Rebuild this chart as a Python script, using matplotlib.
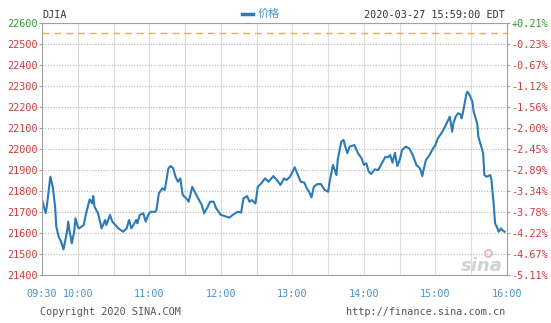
import matplotlib
matplotlib.use("Agg")
import matplotlib.pyplot as plt
from matplotlib.lines import Line2D

# DJIA intraday, minutes after 09:30 open
minutes = [0, 3, 4, 7, 9, 11, 12, 14, 16, 18, 21, 22, 23, 25, 27, 28, 30, 31, 35, 37,
           40, 42, 43, 44, 47, 50, 53, 54, 57, 59, 64, 68, 71, 73, 75, 79, 80, 82, 85, 87,
           89, 91, 95, 96, 98, 101, 103, 106, 108, 110, 112, 114, 116, 118, 121, 123, 126, 128, 131, 134,
           136, 139, 141, 144, 146, 150, 153, 157, 160, 164, 167, 169, 172, 174, 176, 179, 181, 184, 187, 190,
           194, 197, 200, 203, 205, 208, 212, 214, 217, 220, 222, 224, 226, 228, 231, 234, 237, 240, 241, 244,
           245, 247, 248, 251, 253, 254, 256, 258, 262, 265, 268, 270, 272, 274, 276, 279, 282, 285, 288, 290,
           292, 294, 296, 298, 300, 302, 305, 308, 311, 314, 317, 319, 320, 322, 325, 328, 330, 332, 335, 338,
           340, 342, 344, 345, 347, 349, 351, 352, 354, 356, 357, 359, 361, 362, 365, 366, 368, 370, 371, 373,
           376, 377, 379, 380, 382, 383, 385, 386, 388]
prices = [21760, 21695, 21725, 21868, 21820, 21725, 21630, 21582, 21559, 21522, 21606, 21654, 21614, 21551, 21606, 21670, 21630, 21622, 21638, 21694,
          21760, 21741, 21776, 21725, 21694, 21622, 21662, 21638, 21686, 21654, 21622, 21606, 21622, 21662, 21622, 21662, 21646, 21686, 21694, 21654,
          21686, 21701, 21701, 21710, 21789, 21813, 21805, 21908, 21919, 21908, 21868, 21844, 21860, 21781, 21765, 21749, 21820, 21797, 21765, 21733,
          21694, 21725, 21749, 21749, 21718, 21686, 21681, 21673, 21686, 21701, 21697, 21765, 21776, 21749, 21757, 21741, 21820, 21837, 21860, 21844,
          21871, 21852, 21829, 21860, 21852, 21868, 21913, 21884, 21844, 21840, 21813, 21797, 21770, 21820, 21833, 21833, 21805, 21797, 21837, 21924,
          21908, 21876, 21948, 22035, 22043, 22019, 21980, 22011, 22019, 21980, 21956, 21924, 21932, 21892, 21881, 21903, 21900, 21932, 21963, 21960,
          21971, 21935, 21982, 21919, 21948, 21995, 22011, 22003, 21971, 21924, 21908, 21871, 21900, 21948, 21971, 22003, 22019, 22051, 22075, 22106,
          22130, 22154, 22082, 22122, 22154, 22170, 22165, 22146, 22201, 22265, 22273, 22252, 22225, 22178, 22122, 22059, 22019, 21980, 21876, 21868,
          21876, 21852, 21725, 21646, 21622, 21606, 21622, 21614, 21606]

prev_close = 22552.17
price_ticks = list(range(21400, 22700, 100))
pct_labels = ["-5.11%", "-4.67%", "-4.22%", "-3.78%", "-3.34%", "-2.89%", "-2.45%",
              "-2.00%", "-1.56%", "-1.12%", "-0.67%", "-0.23%", "+0.21%"]
time_ticks = [0, 30, 90, 150, 210, 270, 330, 390]
time_labels = ["09:30", "10:00", "11:00", "12:00", "13:00", "14:00", "15:00", "16:00"]

RED = "#cc3b3b"
GREEN = "#2f9a2f"
BLUE = "#2a7bb6"
TIME_BLUE = "#4a92c4"
MONO = "DejaVu Sans Mono"
FS = 7.3

fig = plt.figure(figsize=(5.51, 3.23), dpi=100)
W, H = 551, 323
ax = fig.add_axes([42 / W, 1 - 275 / H, 465 / W, 252 / H])

ax.plot(minutes, prices, color=BLUE, lw=1.5, label="价格", solid_joinstyle="round")
ax.axhline(prev_close, color="#f0b040", lw=1.0, ls=(0, (5, 3.5)))

ax.set_xlim(0, 390)
ax.set_ylim(21400, 22600)

# grid: solid verticals every 30 min, dotted horizontals every 100
for m in range(30, 390, 30):
    ax.axvline(m, color="#dcdcdc", lw=0.8, zorder=0)
for p in price_ticks[1:-1]:
    ax.axhline(p, color="#b8b8b8", lw=0.8, ls=(0, (1, 1.5)), zorder=0)

for s in ax.spines.values():
    s.set_color("#a0a0a0")
    s.set_linewidth(0.8)

ax.set_yticks(price_ticks)
ax.set_yticklabels([str(p) for p in price_ticks], fontfamily=MONO, fontsize=FS)
for lbl, p in zip(ax.get_yticklabels(), price_ticks):
    lbl.set_color(GREEN if p > prev_close else RED)
ax.tick_params(axis="y", length=2, pad=1, color="#a0a0a0")

ax.set_xticks(time_ticks)
ax.set_xticklabels(time_labels, fontfamily=MONO, fontsize=FS, color=TIME_BLUE)
ax.tick_params(axis="x", length=0, pad=10)

ax2 = ax.twinx()
ax2.set_ylim(ax.get_ylim())
ax2.set_yticks(price_ticks)
ax2.set_yticklabels(pct_labels, fontfamily=MONO, fontsize=FS)
for lbl, p in zip(ax2.get_yticklabels(), price_ticks):
    lbl.set_color(GREEN if p > prev_close else RED)
ax2.tick_params(axis="y", length=2, pad=1, color="#a0a0a0")
for s in ax2.spines.values():
    s.set_visible(False)

# header
fig.text(42 / W, 1 - 15 / H, "DJIA", fontfamily=MONO, fontsize=FS, color="#333333",
         va="center", ha="left")
fig.text(505 / W, 1 - 15 / H, "2020-03-27 15:59:00 EDT", fontfamily=MONO, fontsize=FS,
         color="#333333", va="center", ha="right")
fig.lines.append(Line2D([242 / W, 253 / W], [1 - 14 / H, 1 - 14 / H], color=BLUE, lw=2.5,
                        transform=fig.transFigure))
fig.text(258 / W, 1 - 14 / H, "价格", fontfamily=["Noto Sans CJK SC", "DejaVu Sans"],
         fontsize=8, color=TIME_BLUE, va="center", ha="left")

# footer
fig.text(40 / W, 1 - 312 / H, "Copyright 2020 SINA.COM", fontfamily=MONO, fontsize=FS,
         color="#555555", va="center", ha="left")
fig.text(505 / W, 1 - 312 / H, "http://finance.sina.com.cn", fontfamily=MONO, fontsize=FS,
         color="#555555", va="center", ha="right")

# watermark
fig.text(482 / W, 1 - 266 / H, "sina", fontsize=13, style="italic", fontweight="bold",
         color="#d2d2d2", va="center", ha="center")
fig.lines.append(Line2D([488 / W], [1 - 253 / H], marker="o", ms=5, mfc="none", mec="#f0b0b0",
                        mew=1.2, transform=fig.transFigure))

fig.savefig("out.png", dpi=100)
